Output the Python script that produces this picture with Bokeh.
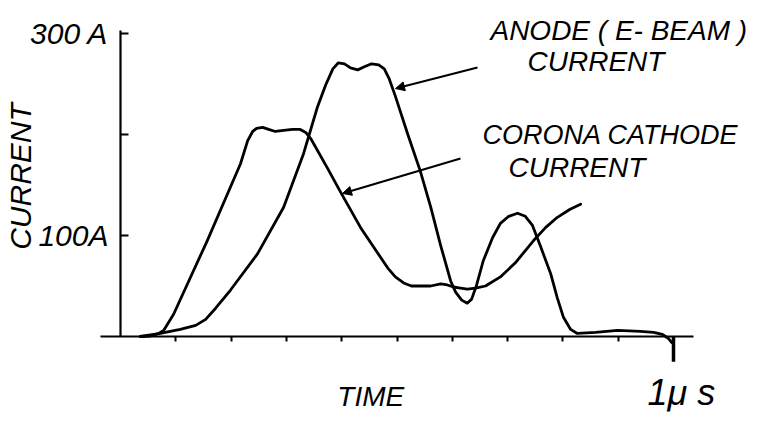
from bokeh.plotting import figure
from bokeh.models import (Range1d, LinearAxis, FixedTicker, Label, Arrow,
                          NormalHead)
from bokeh.embed import file_html
from bokeh.resources import INLINE

# ---- data (time in microseconds, current in amperes) ----
corona_t = [0.036, 0.054, 0.069, 0.078, 0.096, 0.157, 0.217, 0.230, 0.239,
            0.246, 0.257, 0.268, 0.280, 0.295, 0.311, 0.325, 0.335, 0.344,
            0.374, 0.398, 0.434, 0.483, 0.497, 0.512, 0.526, 0.542, 0.561,
            0.579, 0.591, 0.602, 0.615, 0.627, 0.642, 0.660, 0.687, 0.714,
            0.747, 0.769, 0.790, 0.813, 0.832]
corona_i = [0, 0.5, 3, 6, 22, 95, 171, 194, 203,
            206, 207, 205, 203, 204, 205, 205, 202, 196,
            167, 143, 108, 68, 59, 53, 50, 50, 50,
            52, 51, 49, 48, 47, 48, 50, 59, 73,
            95, 108, 118, 126, 131]

anode_t = [0.036, 0.072, 0.108, 0.136, 0.154, 0.172, 0.199, 0.248, 0.295,
           0.331, 0.356, 0.371, 0.384, 0.394, 0.405, 0.416, 0.429, 0.441,
           0.454, 0.467, 0.477, 0.486, 0.497, 0.519, 0.542, 0.561, 0.579,
           0.597, 0.606, 0.617, 0.627, 0.635, 0.644, 0.656, 0.673, 0.687,
           0.702, 0.718, 0.732, 0.745, 0.759, 0.778, 0.790, 0.801, 0.814,
           0.826, 0.859, 0.899, 0.940, 0.964, 0.980, 0.991, 0.997]
anode_i = [0, 3, 7, 11, 17, 28, 46, 82, 128,
           181, 227, 249, 265, 271, 270, 266, 264, 267,
           270, 269, 265, 255, 238, 201, 164, 128, 90,
           55, 44, 36, 33, 37, 51, 75, 98, 112,
           119, 122, 119, 110, 90, 62, 38, 19, 7,
           3, 4, 6, 5, 4, 2, -2, -6]

x_ticks = [0.1, 0.2, 0.3, 0.4, 0.5, 0.6, 0.7, 0.8, 0.9, 1.0]
x_tick_labels = {0.1: "", 0.2: "", 0.3: "", 0.4: "", 0.5: "", 0.6: "",
                 0.7: "", 0.8: "", 0.9: "", 1.0: ""}
y_ticks = [100, 200, 300]
y_tick_labels = {100: "100A", 200: "", 300: "300 A"}

# annotation arrows: (x_start, y_start, x_end, y_end)
anode_arrow = [0.6456, 266.3, 0.4973, 245.5]
corona_arrow = [0.6148, 176.2, 0.4014, 141.6]

FONT = "Liberation Sans"

p = figure(width=757, height=421, output_backend="svg", toolbar_location=None,
           x_axis_type=None, y_axis_type=None,
           x_range=Range1d(-0.2170, 1.1519), y_range=Range1d(-84.16, 332.67),
           min_border=0)
p.grid.visible = False
p.outline_line_color = None
p.background_fill_color = "white"
p.border_fill_color = "white"

xaxis = LinearAxis(fixed_location=0, ticker=FixedTicker(ticks=x_ticks),
                   bounds=(-0.036, 1.036))
xaxis.major_label_overrides = x_tick_labels
xaxis.axis_line_width = 2.2
xaxis.major_tick_line_width = 2
xaxis.major_tick_in = 0
xaxis.major_tick_out = 5
xaxis.minor_tick_line_color = None
p.add_layout(xaxis, "below")

yaxis = LinearAxis(fixed_location=0, ticker=FixedTicker(ticks=y_ticks),
                   bounds=(0, 303))
yaxis.major_label_overrides = y_tick_labels
yaxis.axis_line_width = 2.2
yaxis.major_tick_line_width = 2
yaxis.major_tick_in = 8
yaxis.major_tick_out = 0
yaxis.minor_tick_line_color = None
yaxis.major_label_standoff = 12
yaxis.major_label_orientation = "horizontal"
yaxis.major_label_text_font = FONT
yaxis.major_label_text_font_style = "italic"
yaxis.major_label_text_font_size = "30px"
yaxis.major_label_text_color = "black"
p.add_layout(yaxis, "left")

# long tick at 1 microsecond
p.segment(x0=[x_ticks[-1]], y0=[0], x1=[x_ticks[-1]], y1=[-25],
          line_color="black", line_width=3.5)

p.line(anode_t, anode_i, line_color="black", line_width=2.8,
       line_join="round", line_cap="round")
p.line(corona_t, corona_i, line_color="black", line_width=2.8,
       line_join="round", line_cap="round")

for a in (anode_arrow, corona_arrow):
    p.add_layout(Arrow(x_start=a[0], y_start=a[1], x_end=a[2], y_end=a[3],
                       line_width=2, line_color="black",
                       end=NormalHead(size=9, fill_color="black",
                                      line_color="black", line_width=1)))

def lab(text, x, y, size, angle=0.0, align="left"):
    p.add_layout(Label(x=x, y=y, text=text, angle=angle, text_align=align,
                       text_baseline="middle", text_font=FONT,
                       text_font_style="italic", text_font_size=size,
                       text_color="black"))

lab("ANODE ( E- BEAM )", 0.669, 303.0, "28px")
lab("CURRENT", 0.736, 272.3, "28px")
lab("CORONA CATHODE", 0.6546, 199.5, "27px")
lab("CURRENT", 0.7016, 167.8, "28px")
lab("TIME", 0.392, -59.4, "28px")
lab("1\u03bc s", 0.953, -55.4, "36px")
lab("CURRENT", -0.1800, 158.4, "30px", angle=1.5708, align="center")

open("out.html", "w").write(file_html(p, INLINE))
